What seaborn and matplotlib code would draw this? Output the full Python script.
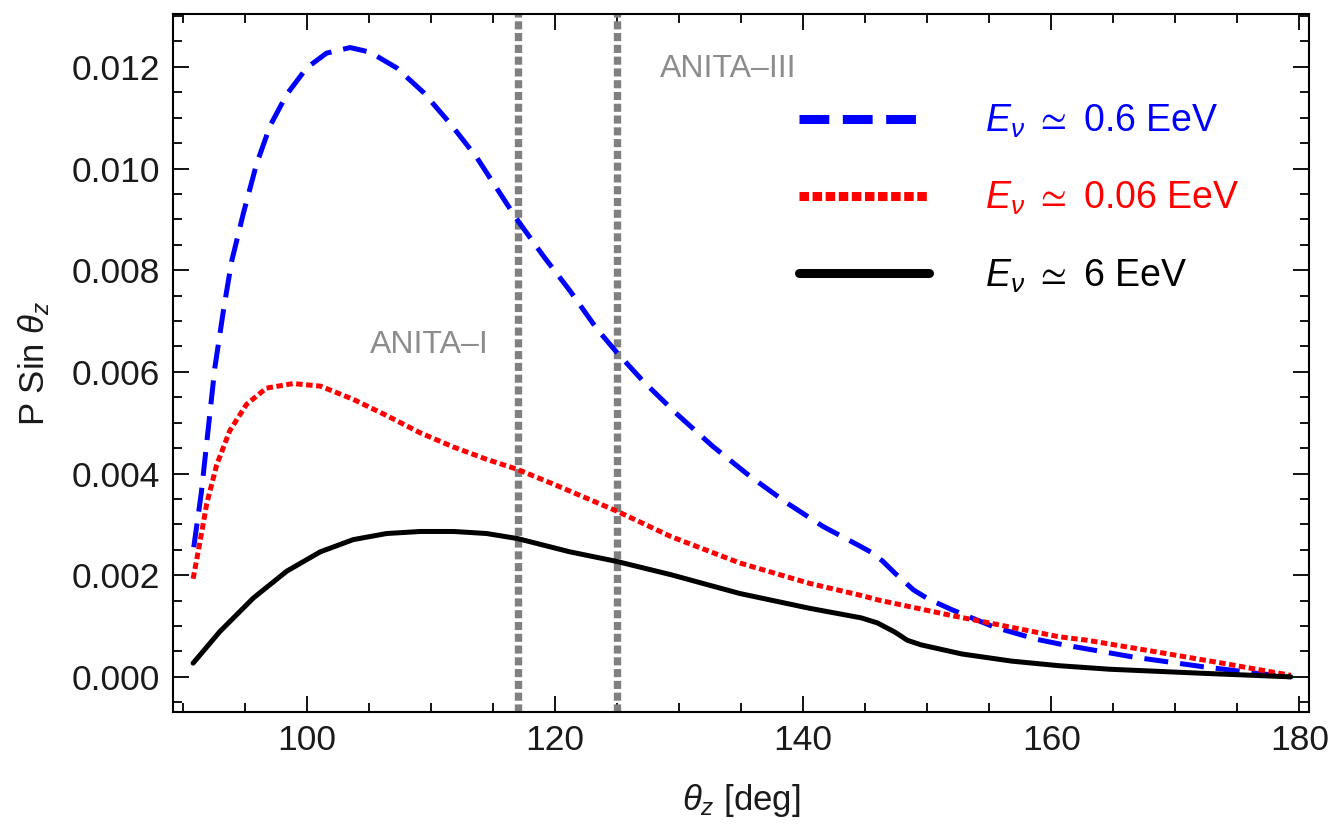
import numpy as np
import pandas as pd
import matplotlib
matplotlib.use("Agg")
import matplotlib.pyplot as plt
import seaborn as sns
from matplotlib.lines import Line2D
from matplotlib.ticker import MultipleLocator, FormatStrFormatter

# values (P sin theta_z vs zenith angle)
theta_06 = [90.9, 91.5, 92.05, 92.6, 93.3, 93.95, 94.9, 95.95, 97.05, 98.4, 100.0, 101.6,
            103.5, 105.1, 107.25, 109.4, 111.55, 113.7, 115.85, 117.0, 119.1, 121.2, 123.4,
            125.0, 127.1, 129.7, 132.7, 135.7, 138.7, 141.6, 144.6, 145.5, 146.4, 147.4,
            148.9, 150.1, 152.0, 153.6, 155.4, 158.8, 161.0, 166.6, 172.2, 176.6, 179.3]
p_06 = [0.00255, 0.00360, 0.00484, 0.00608, 0.00722, 0.00817, 0.00912, 0.01008, 0.01084,
        0.01146, 0.01198, 0.01227, 0.01238, 0.01229, 0.01198, 0.01150, 0.01089, 0.01022,
        0.00941, 0.00898, 0.00827, 0.00760, 0.00684, 0.00638, 0.00582, 0.00520, 0.00454,
        0.00395, 0.00342, 0.00296, 0.00257, 0.00245, 0.00228, 0.00204, 0.00171, 0.00153,
        0.00132, 0.00116, 0.00098, 0.00074, 0.00063, 0.00039, 0.00020, 0.00007, 0.00000]

theta_006 = [90.85, 91.4, 91.95, 92.75, 93.8, 95.15, 96.75, 98.9, 101.1, 103.75, 106.45,
             109.15, 111.85, 114.5, 117.0, 120.0, 125.0, 129.35, 134.9, 140.5, 144.7, 146.1,
             151.7, 157.3, 160.6, 162.9, 168.5, 174.0, 179.3]
p_006 = [0.00193, 0.00265, 0.00341, 0.00417, 0.00484, 0.00536, 0.00568, 0.00577, 0.00572,
         0.00546, 0.00514, 0.00480, 0.00452, 0.00428, 0.00408, 0.00378, 0.00326, 0.00276,
         0.00224, 0.00184, 0.00160, 0.00151, 0.00122, 0.00095, 0.00079, 0.00072, 0.00049,
         0.00026, 0.00003]

theta_6 = [90.85, 93.0, 95.7, 98.4, 101.1, 103.75, 106.45, 109.15, 111.85, 114.5, 117.0,
           121.2, 125.0, 129.35, 134.9, 140.5, 144.7, 146.0, 147.4, 148.4, 149.5, 152.8,
           156.8, 160.6, 164.7, 172.2, 179.3]
p_6 = [0.00027, 0.00089, 0.00155, 0.00208, 0.00246, 0.00270, 0.00282, 0.00286, 0.00286,
       0.00282, 0.00272, 0.00246, 0.00227, 0.00201, 0.00164, 0.00135, 0.00116, 0.00106,
       0.00088, 0.00072, 0.00063, 0.00045, 0.00031, 0.00022, 0.00015, 0.00007, 0.00000]

anita_theta = [117, 125]
anita_names = ["ANITA\u2013I", "ANITA\u2013III"]
anita_text_x = [109.9, 134.0]
anita_text_y = [0.00653, 0.01196]

series_labels = [r"$E_\nu\ \simeq$ 0.6 EeV", r"$E_\nu\ \simeq$ 0.06 EeV", r"$E_\nu\ \simeq$ 6 EeV"]
colors = ["#0000ff", "#ff0000", "#000000"]

sns.set_theme(style="ticks")
plt.rcParams["font.family"] = ["Liberation Sans", "DejaVu Sans"]
plt.rcParams["mathtext.fontset"] = "custom"
plt.rcParams["mathtext.rm"] = "Liberation Sans"
plt.rcParams["mathtext.it"] = "Liberation Sans:italic"
plt.rcParams["mathtext.fallback"] = "stixsans"

fig = plt.figure(figsize=(13.28, 8.24), dpi=100)
ax = fig.add_axes([0.130, 0.136, 0.856, 0.847])

for th in anita_theta:
    ax.axvline(th, color="#808080", lw=5.3, dashes=(1.1, 0.5), zorder=1)

frames = [
    pd.DataFrame({"theta": theta_06, "p": p_06}),
    pd.DataFrame({"theta": theta_006, "p": p_006}),
    pd.DataFrame({"theta": theta_6, "p": p_6}),
]
styles = [(4.8, 2.4), (1.3, 0.7), None]
for df, col, st in zip(frames, colors, styles):
    kw = {"dashes": st} if st else {}
    sns.lineplot(data=df, x="theta", y="p", ax=ax, color=col, lw=3.6,
                 sort=False, zorder=3, legend=False, **kw)

for name, tx, ty in zip(anita_names, anita_text_x, anita_text_y):
    ax.text(tx, ty, name, color="#8c8c8c", fontsize=23, ha="center", va="center")

ax.set_xlim(89.2, 180.8)
ax.set_ylim(-0.00069, 0.01304)
ax.xaxis.set_major_locator(MultipleLocator(20))
ax.xaxis.set_minor_locator(MultipleLocator(5))
ax.yaxis.set_major_locator(MultipleLocator(0.002))
ax.yaxis.set_minor_locator(MultipleLocator(0.0005))
ax.yaxis.set_major_formatter(FormatStrFormatter("%.3f"))
ax.tick_params(which="both", direction="in", top=True, right=True, labelsize=25.5,
               color="black", width=1.3, labelcolor="#1a1a1a")
ax.tick_params(which="major", length=11.5, pad=9)
ax.tick_params(which="minor", length=6.5)
for sp in ax.spines.values():
    sp.set_color("black")
    sp.set_linewidth(1.5)

ax.set_xlabel(r"$\theta_z$ [deg]", fontsize=25, labelpad=18, color="#1a1a1a")
ax.set_ylabel(r"P Sin $\theta_z$", fontsize=25, labelpad=14, color="#1a1a1a")

handles = [
    Line2D([], [], color=colors[0], lw=6.5, dashes=(3.3, 1.5)),
    Line2D([], [], color=colors[1], lw=6.5, dashes=(1.05, 0.4)),
    Line2D([], [], color=colors[2], lw=6.5),
]
leg = ax.legend(handles, series_labels, loc="upper left", bbox_to_anchor=(0.551, 0.873),
                frameon=False, fontsize=27, handlelength=3.47, handletextpad=1.5,
                labelspacing=1.07, borderpad=0, borderaxespad=0, labelcolor=colors)

fig.savefig("out.png", dpi=100)
